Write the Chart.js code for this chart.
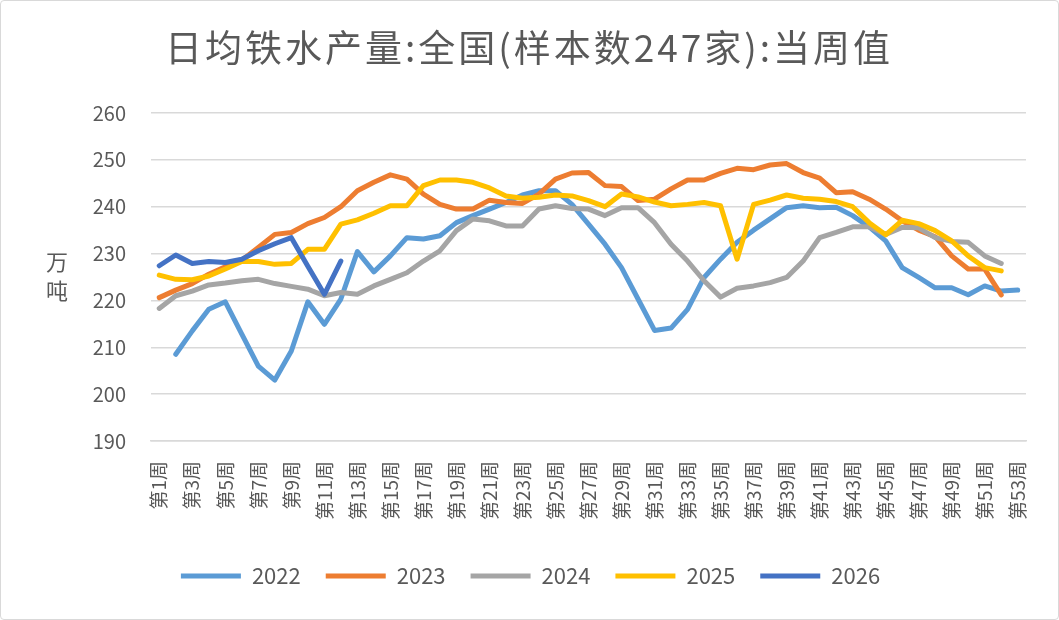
<!DOCTYPE html>
<html>
<head>
<meta charset="utf-8">
<script src="https://cdn.jsdelivr.net/npm/chart.js@4.4.1/dist/chart.umd.min.js"></script>
<style>
  html, body { margin: 0; padding: 0; background: #fff; }
  .wrap { width: 1059px; height: 620px; box-sizing: border-box; border: 1px solid #d9d9d9; border-radius: 4px; }
</style>
</head>
<body>
<div class="wrap"><canvas id="chart" width="1057" height="618"></canvas></div>
<script>
/* ================= DATA ================= */

const weeks = [];
for (let i = 1; i <= 53; i++) weeks.push("第" + i + "周");

const years = ["2022", "2023", "2024", "2025", "2026"];
const colors = ["#5B9BD5", "#ED7D31", "#A5A5A5", "#FFC000", "#4472C4"];

const s2022 = [null, 208.5, 213.5, 218.1, 219.7, 212.8, 206.0, 203.0, 209.2, 219.7,
  214.9, 220.3, 230.4, 226.1, 229.5, 233.4, 233.1, 233.8, 236.6, 238.1,
  239.5, 240.9, 242.5, 243.4, 243.4, 240.5, 236.3, 232.0, 227.0, 220.3,
  213.6, 214.1, 218.1, 224.9, 228.8, 232.4, 235.0, 237.4, 239.8, 240.2,
  239.8, 239.9, 238.1, 235.7, 232.7, 227.0, 224.9, 222.7, 222.7, 221.2,
  223.1, 222.0, 222.2];
const s2023 = [220.6, 222.2, 223.6, 225.6, 227.2, 228.6, 231.3, 234.1, 234.5, 236.4,
  237.7, 240.0, 243.4, 245.2, 246.8, 245.9, 242.7, 240.5, 239.5, 239.5,
  241.4, 240.9, 240.7, 242.7, 245.9, 247.2, 247.3, 244.5, 244.3, 241.3,
  241.6, 243.8, 245.7, 245.7, 247.1, 248.2, 247.9, 248.9, 249.2, 247.3,
  246.1, 243.0, 243.2, 241.6, 239.5, 237.0, 235.0, 233.6, 229.5, 226.7,
  226.7, 221.2];
const s2024 = [218.3, 221.0, 222.0, 223.3, 223.7, 224.2, 224.5, 223.6, 223.0, 222.4,
  221.0, 221.7, 221.3, 223.1, 224.5, 225.9, 228.4, 230.6, 234.9, 237.4,
  237.0, 235.9, 235.9, 239.5, 240.2, 239.6, 239.5, 238.1, 239.8, 239.8,
  236.6, 232.0, 228.4, 224.2, 220.7, 222.6, 223.1, 223.8, 224.9, 228.4,
  233.4, 234.5, 235.7, 235.7, 234.1, 235.6, 235.5, 233.4, 232.6, 232.4,
  229.5, 227.9];
const s2025 = [225.4, 224.5, 224.4, 225.2, 226.7, 228.3, 228.3, 227.7, 227.9, 230.9,
  230.9, 236.3, 237.2, 238.6, 240.2, 240.2, 244.5, 245.7, 245.7, 245.2,
  244.0, 242.3, 241.8, 242.0, 242.5, 242.3, 241.3, 240.0, 242.7, 242.1,
  241.0, 240.2, 240.5, 240.9, 240.2, 228.8, 240.5, 241.4, 242.5, 241.8,
  241.6, 241.1, 240.0, 236.6, 234.0, 237.1, 236.4, 234.9, 232.7, 229.5,
  227.0, 226.3];
const s2026 = [227.4, 229.7, 227.9, 228.3, 228.1, 228.8, 230.6, 232.1, 233.4, 227.3,
  221.3, 228.4];

const yTicks = [190, 200, 210, 220, 230, 240, 250, 260];

/* ================= CHART ================= */

const series = [s2022, s2023, s2024, s2025, s2026];
const FONT = "'Noto Sans CJK SC', 'Noto Sans', sans-serif";
const GREY = "#595959";
const TITLE = "日均铁水产量:全国(样本数247家):当周值";

const datasets = series.map((data, i) => ({
  label: years[i],
  data,
  borderColor: colors[i],
  backgroundColor: colors[i],
  borderWidth: 5,
  pointRadius: 0,
  pointHoverRadius: 0,
  tension: 0,
  borderCapStyle: "round",
  borderJoinStyle: "round",
  order: series.length - i,   // later years drawn on top
}));

/* title (spaced out) and stacked y title 万/吨 */
const extraText = {
  id: "extraText",
  afterDraw(chart) {
    const ctx = chart.ctx;
    ctx.save();
    ctx.fillStyle = GREY;
    ctx.textAlign = "center";
    ctx.textBaseline = "middle";

    ctx.font = "37px " + FONT;
    ctx.letterSpacing = "3px";
    ctx.fillText(TITLE, 528, 47);
    ctx.letterSpacing = "0px";

    ctx.font = "22px " + FONT;
    ctx.fillText("万", 56, 261);
    ctx.fillText("吨", 56, 290);
    ctx.restore();
  },
};

new Chart(document.getElementById("chart"), {
  type: "line",
  data: { labels: weeks, datasets },
  plugins: [extraText],
  options: {
    responsive: false,
    animation: false,
    layout: { padding: { left: 34, right: 32, bottom: 22, top: 112 } },
    plugins: {
      title: { display: false },
      legend: {
        position: "bottom",
        reverse: true,
        labels: {
          usePointStyle: true,
          pointStyle: "line",
          pointStyleWidth: 60,
          padding: 25,
          color: GREY,
          font: { family: FONT, size: 22 },
        },
      },
      tooltip: { enabled: false },
    },
    scales: {
      x: {
        offset: true,
        grid: { display: false },
        border: { display: true, color: "#d9d9d9", width: 1.5 },
        ticks: {
          autoSkip: false,
          minRotation: 90,
          maxRotation: 90,
          padding: 12,
          color: GREY,
          font: { family: FONT, size: 19 },
          callback: (v, i) => (i % 2 === 0 ? weeks[i] : ""),
        },
        afterFit: (scale) => { scale.height = 99; },
      },
      y: {
        min: 190,
        max: 260,
        afterBuildTicks: (scale) => { scale.ticks = yTicks.map(v => ({ value: v })); },
        grid: { color: "#d9d9d9", lineWidth: 1.5, drawTicks: false },
        border: { display: false },
        ticks: {
          padding: 25,
          color: GREY,
          font: { family: FONT, size: 20 },
        },
        afterFit: (scale) => { scale.width = 116; },
      },
    },
  },
});
</script>
</body>
</html>
